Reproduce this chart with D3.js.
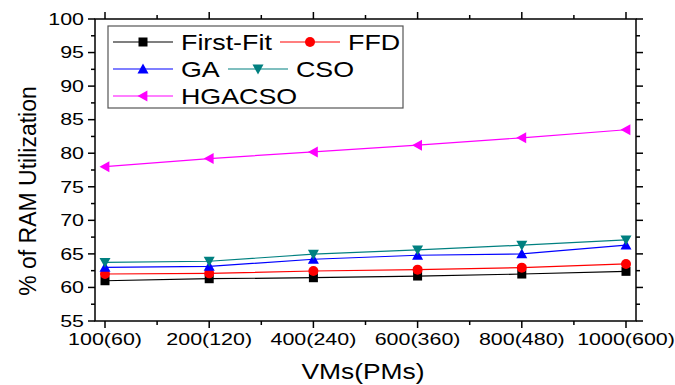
<!DOCTYPE html>
<html>
<head>
<meta charset="utf-8">
<script src="https://cdn.jsdelivr.net/npm/d3@7.9.0/dist/d3.min.js"></script>
<style>
  body { margin: 0; background: #fff; }
  svg { font-family: "Liberation Sans", Arial, sans-serif; }
</style>
</head>
<body>
<svg id="chart" width="675" height="385"></svg>
<script>
// categories along the x axis
const categories = ['100(60)', '200(120)', '400(240)', '600(360)', '800(480)', '1000(600)'];

// % of RAM utilization per algorithm
const firstFit = [61.0, 61.3, 61.45, 61.7, 62.0, 62.4];
const ffd      = [62.0, 62.1, 62.45, 62.65, 62.95, 63.5];
const ga       = [63.0, 63.15, 64.2, 64.8, 65.0, 66.3];
const cso      = [63.75, 63.9, 64.95, 65.6, 66.3, 67.1];
const hgacso   = [78.0, 79.2, 80.2, 81.2, 82.3, 83.5];

const yTicks = [55, 60, 65, 70, 75, 80, 85, 90, 95, 100];

const series = [
  { name: 'First-Fit', values: firstFit, color: '#000000', symbol: 'square' },
  { name: 'FFD',       values: ffd,      color: '#ff0000', symbol: 'circle' },
  { name: 'GA',        values: ga,       color: '#0000ff', symbol: 'triUp' },
  { name: 'CSO',       values: cso,      color: '#008080', symbol: 'triDown' },
  { name: 'HGACSO',    values: hgacso,   color: '#ff00ff', symbol: 'triLeft' }
];

const svg = d3.select('#chart');
const mLeft = 95, mRight = 636, mTop = 19, mBottom = 321;
// the original figure is stretched sideways, so text gets a wider x scale
const stretch = 1.3;

const x = d3.scalePoint().domain(categories).range([mLeft, mRight]).padding(0.096);
const y = d3.scaleLinear().domain([55, 100]).range([mBottom, mTop]);

// draw a marker shape centred at 0,0
function marker(g, type, color) {
  const s = 5.5;
  if (type === 'square') {
    g.append('rect').attr('x', -4.5).attr('y', -4.5).attr('width', 9).attr('height', 9).attr('fill', color);
  } else if (type === 'circle') {
    g.append('circle').attr('r', 5).attr('fill', color);
  } else {
    let pts;
    if (type === 'triUp') pts = [[0, -s], [s, s * 0.8], [-s, s * 0.8]];
    if (type === 'triDown') pts = [[0, s], [s, -s * 0.8], [-s, -s * 0.8]];
    if (type === 'triLeft') pts = [[-s, 0], [s * 0.8, -s], [s * 0.8, s]];
    g.append('polygon').attr('points', pts.map(p => p.join(',')).join(' ')).attr('fill', color);
  }
}

// minor ticks sit half way between categories
const xs = categories.map(c => x(c));
const step = x.step();
const minorX = xs.slice(0, -1).map(v => v + step / 2);

const axes = svg.append('g').attr('stroke', '#000').attr('stroke-width', 1.5);

// frame
axes.append('rect')
  .attr('x', mLeft).attr('y', mTop)
  .attr('width', mRight - mLeft).attr('height', mBottom - mTop)
  .attr('fill', 'none');

// y ticks left/right
const yMinor = yTicks.slice(0, -1).map(v => v + 2.5);
yTicks.forEach(v => {
  axes.append('line').attr('x1', mLeft - 7).attr('x2', mLeft).attr('y1', y(v)).attr('y2', y(v));
  axes.append('line').attr('x1', mRight).attr('x2', mRight + 7).attr('y1', y(v)).attr('y2', y(v));
});
yMinor.forEach(v => {
  axes.append('line').attr('x1', mLeft - 4).attr('x2', mLeft).attr('y1', y(v)).attr('y2', y(v));
  axes.append('line').attr('x1', mRight).attr('x2', mRight + 4).attr('y1', y(v)).attr('y2', y(v));
});

// x ticks bottom/top
xs.forEach(v => {
  axes.append('line').attr('x1', v).attr('x2', v).attr('y1', mBottom).attr('y2', mBottom + 7);
  axes.append('line').attr('x1', v).attr('x2', v).attr('y1', mTop - 7).attr('y2', mTop);
});
minorX.forEach(v => {
  axes.append('line').attr('x1', v).attr('x2', v).attr('y1', mBottom).attr('y2', mBottom + 4);
  axes.append('line').attr('x1', v).attr('x2', v).attr('y1', mTop - 4).attr('y2', mTop);
});

// tick labels
svg.append('g').selectAll('text').data(yTicks).join('text')
  .attr('transform', d => `translate(${mLeft - 11},${y(d)}) scale(${stretch},1)`)
  .attr('dy', '0.35em')
  .attr('text-anchor', 'end').attr('font-size', 16.5).text(d => d);

svg.append('g').selectAll('text').data(categories).join('text')
  .attr('transform', d => `translate(${x(d)},${mBottom + 24}) scale(${stretch},1)`)
  .attr('text-anchor', 'middle').attr('font-size', 16.5).text(d => d);

// axis titles
svg.append('text')
  .attr('transform', `translate(363,379) scale(1.2,1)`)
  .attr('text-anchor', 'middle').attr('font-size', 22).text('VMs(PMs)');
svg.append('text')
  .attr('transform', `translate(36,191) rotate(-90)`)
  .attr('text-anchor', 'middle').attr('font-size', 23).text('% of RAM Utilization');

// lines and markers
const line = d3.line().x((d, i) => xs[i]).y(d => y(d));
series.forEach(s => {
  svg.append('path').datum(s.values)
    .attr('d', line).attr('fill', 'none')
    .attr('stroke', s.color).attr('stroke-width', 1.2);
  s.values.forEach((v, i) => {
    const g = svg.append('g').attr('transform', `translate(${xs[i]},${y(v)})`);
    marker(g, s.symbol, s.color);
  });
});

// legend
const legend = svg.append('g');
legend.append('rect').attr('x', 108).attr('y', 26).attr('width', 295).attr('height', 82)
  .attr('fill', '#fff').attr('stroke', '#555').attr('stroke-width', 1.2);
const legendPos = [
  { x: 113, y: 42 }, { x: 280, y: 42 },
  { x: 113, y: 69 }, { x: 228, y: 69 },
  { x: 113, y: 96 }
];
series.forEach((s, i) => {
  const p = legendPos[i];
  const g = legend.append('g').attr('transform', `translate(${p.x},${p.y})`);
  g.append('line').attr('x1', 0).attr('x2', 60).attr('stroke', s.color).attr('stroke-width', 1.2);
  marker(g.append('g').attr('transform', 'translate(30,0)'), s.symbol, s.color);
  g.append('text').attr('transform', `translate(68,0) scale(1.22,1)`)
    .attr('dy', '0.35em').attr('font-size', 22).text(s.name);
});
</script>
</body>
</html>
